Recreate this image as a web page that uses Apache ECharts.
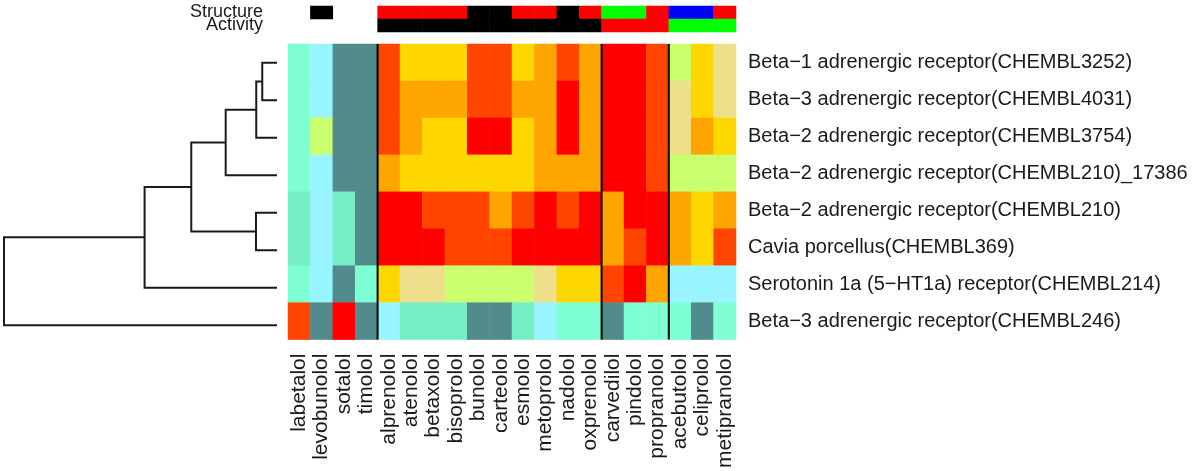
<!DOCTYPE html>
<html>
<head>
<meta charset="utf-8">
<style>
  html, body { margin: 0; padding: 0; background: #fff; }
  #chart { width: 1200px; height: 471px; }
</style>
<script src="https://cdn.jsdelivr.net/npm/echarts@6/dist/echarts.min.js"></script>
</head>
<body>
<div id="chart"></div>
<script>
const drugs = ['labetalol', 'levobunolol', 'sotalol', 'timolol', 'alprenolol', 'atenolol', 'betaxolol',
  'bisoprolol', 'bunolol', 'carteolol', 'esmolol', 'metoprolol', 'nadolol', 'oxprenolol',
  'carvedilol', 'pindolol', 'propranolol', 'acebutolol', 'celiprolol', 'metipranolol']

const targets = [
  'Beta−1 adrenergic receptor(CHEMBL3252)',
  'Beta−3 adrenergic receptor(CHEMBL4031)',
  'Beta−2 adrenergic receptor(CHEMBL3754)',
  'Beta−2 adrenergic receptor(CHEMBL210)_17386',
  'Beta−2 adrenergic receptor(CHEMBL210)',
  'Cavia porcellus(CHEMBL369)',
  'Serotonin 1a (5−HT1a) receptor(CHEMBL214)',
  'Beta−3 adrenergic receptor(CHEMBL246)'
]

// colour levels, low -> high
const levelColors = ['#528B8B', '#76EEC6', '#7FFFD4', '#98F5FF', '#CAFF70',
  '#EEE08A', '#FFD700', '#FFA500', '#FF4500', '#FF0000']

// one row per target, one value per drug (level index)
const values = [
  [2, 3, 0, 0, 8, 6, 6, 6, 8, 8, 6, 7, 8, 7, 9, 9, 8, 4, 6, 5],
  [2, 3, 0, 0, 8, 7, 7, 7, 8, 8, 7, 7, 9, 7, 9, 9, 8, 5, 6, 5],
  [2, 4, 0, 0, 8, 7, 6, 6, 9, 9, 6, 7, 9, 7, 9, 9, 8, 5, 7, 6],
  [2, 3, 0, 0, 7, 6, 6, 6, 6, 6, 6, 7, 7, 7, 9, 9, 8, 4, 4, 4],
  [1, 3, 1, 0, 9, 9, 8, 8, 8, 7, 8, 9, 8, 9, 7, 9, 9, 7, 6, 7],
  [1, 3, 1, 0, 9, 9, 9, 8, 8, 8, 9, 9, 9, 9, 7, 8, 9, 7, 6, 8],
  [2, 3, 0, 2, 6, 5, 5, 4, 4, 4, 4, 5, 6, 6, 8, 9, 7, 3, 3, 3],
  [8, 0, 9, 0, 3, 1, 1, 1, 0, 0, 1, 3, 2, 2, 0, 2, 2, 2, 0, 2]
]

// annotation bars: 0 none, 1 black, 2 red, 3 green, 4 blue
const annotLabels = ['Structure', 'Activity']
const annotColors = ['#FFFFFF', '#000000', '#FF0000', '#00FF00', '#0000FF']
const structure = [0, 1, 0, 0, 2, 2, 2, 2, 1, 1, 2, 2, 1, 2, 3, 3, 2, 4, 4, 2]
const activity = [0, 0, 0, 0, 1, 1, 1, 1, 1, 1, 1, 1, 1, 1, 2, 2, 2, 3, 3, 3]

// row clustering, hclust style: negative = leaf, positive = earlier merge, then height
const merges = [
  [-1, -2, 0.054],
  [1, -3, 0.076],
  [2, -4, 0.188],
  [-5, -6, 0.077],
  [3, 4, 0.314],
  [5, -7, 0.485],
  [6, -8, 1.0]
]

const FONT = '"Liberation Sans", Arial, sans-serif'

// heatmap cells
const cells = []
values.forEach((row, r) => row.forEach((v, c) => cells.push([c, r, v])))

const annotCells = []
;[structure, activity].forEach((row, r) => row.forEach((v, c) => {
  if (v > 0) annotCells.push([c, r, v])
}))

// group separators where activity class changes
const breaks = []
for (let i = 1; i < activity.length; i++) {
  if (activity[i] !== activity[i - 1]) breaks.push([i, 0])
}

// dendrogram segments
const nodeH = []
const nodeY = []
const dendroLines = []
const pos = k => k < 0 ? [0, -k - 0.5] : [nodeH[k - 1], nodeY[k - 1]]
merges.forEach(([a, b, h]) => {
  const pa = pos(a)
  const pb = pos(b)
  nodeH.push(h)
  nodeY.push((pa[1] + pb[1]) / 2)
  dendroLines.push({ coords: [pa, [h, pa[1]], [h, pb[1]], pb] })
})
const rootH = merges[merges.length - 1][2]

const chart = echarts.init(document.getElementById('chart'))

chart.setOption({
  animation: false,
  backgroundColor: '#fff',
  textStyle: { fontFamily: FONT },
  grid: [
    { left: 288, top: 44, width: 448, height: 300 },
    { left: 288, top: 6, width: 448, height: 26 },
    { left: 4, top: 44, width: 273, height: 300 }
  ],
  xAxis: [
    {
      type: 'category', gridIndex: 0, data: drugs, position: 'bottom',
      axisLine: { show: false }, axisTick: { show: false }, splitLine: { show: false },
      axisLabel: { rotate: 90, margin: 14, fontSize: 21, color: '#1a1a1a', fontFamily: FONT, interval: 0 }
    },
    { type: 'value', gridIndex: 0, min: 0, max: drugs.length, show: false },
    { type: 'category', gridIndex: 1, data: drugs, show: false },
    { type: 'value', gridIndex: 2, min: 0, max: rootH, inverse: true, show: false }
  ],
  yAxis: [
    {
      type: 'category', gridIndex: 0, data: targets, inverse: true, position: 'right',
      axisLine: { show: false }, axisTick: { show: false }, splitLine: { show: false },
      axisLabel: { margin: 12, fontSize: 20, color: '#1a1a1a', fontFamily: FONT, interval: 0 }
    },
    { type: 'value', gridIndex: 0, min: 0, max: targets.length, inverse: true, show: false },
    {
      type: 'category', gridIndex: 1, data: annotLabels, inverse: true, position: 'left',
      axisLine: { show: false }, axisTick: { show: false }, splitLine: { show: false },
      axisLabel: {
        margin: 25, fontSize: 18, color: '#1a1a1a', fontFamily: FONT,
        interval: 0, hideOverlap: false, lineHeight: 14
      }
    },
    { type: 'value', gridIndex: 2, min: 0, max: targets.length, inverse: true, show: false }
  ],
  visualMap: [
    {
      type: 'piecewise', show: false, seriesIndex: 0, dimension: 2,
      pieces: levelColors.map((color, i) => ({ value: i, color }))
    },
    {
      type: 'piecewise', show: false, seriesIndex: 1, dimension: 2,
      pieces: annotColors.map((color, i) => ({ value: i, color }))
    }
  ],
  series: [
    {
      type: 'heatmap', xAxisIndex: 0, yAxisIndex: 0, data: cells,
      itemStyle: { borderWidth: 0 }, emphasis: { disabled: true }
    },
    {
      type: 'heatmap', xAxisIndex: 2, yAxisIndex: 2, data: annotCells,
      itemStyle: { borderWidth: 0 }, emphasis: { disabled: true }
    },
    {
      type: 'custom', xAxisIndex: 1, yAxisIndex: 1, data: breaks, silent: true,
      renderItem: (params, api) => {
        const p0 = api.coord([api.value(0), 0])
        const p1 = api.coord([api.value(0), targets.length])
        return {
          type: 'line',
          shape: { x1: p0[0], y1: p0[1], x2: p1[0], y2: p1[1] },
          style: { stroke: '#000', lineWidth: 2 }
        }
      }
    },
    {
      type: 'lines', coordinateSystem: 'cartesian2d', xAxisIndex: 3, yAxisIndex: 3,
      polyline: true, data: dendroLines, silent: true,
      lineStyle: { color: '#1a1a1a', width: 2, opacity: 1 }
    }
  ]
})
</script>
</body>
</html>
